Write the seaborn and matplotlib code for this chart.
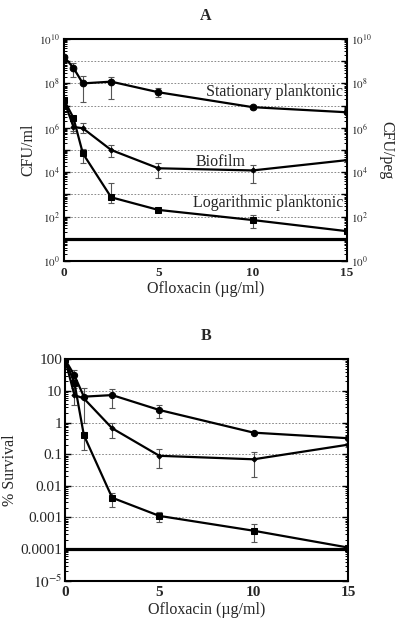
import numpy as np
import pandas as pd
import matplotlib
matplotlib.use("Agg")
import matplotlib.pyplot as plt
from matplotlib.ticker import FixedLocator, FixedFormatter, LogLocator, NullFormatter
import seaborn as sns

sns.set_theme(style="white")
plt.rcParams['font.family'] = ['Liberation Serif', 'DejaVu Serif']
plt.rcParams['mathtext.fontset'] = 'stix'

# ---------------- data ----------------
conc = [0, 0.5, 1, 2.5, 5, 10, 15]

# Panel A (CFU)
a_stat = [1.6e9, 5.0e8, 1.0e8, 1.2e8, 4.0e7, 8.5e6, 5.0e6]
a_stat_lo = [1.6e9, 1.9e8, 1.5e7, 2.0e7, 2.4e7, 7.0e6, 5.0e6]
a_stat_hi = [1.6e9, 8.3e8, 2.2e8, 1.9e8, 6.2e7, 1.0e7, 5.0e6]

a_bio = [1.7e7, 1.1e6, 9.5e5, 1.0e5, 1.5e4, 1.2e4, 3.5e4]
a_bio_lo = [1.7e7, 5.6e5, 5.9e5, 4.8e4, 5.5e3, 3.2e3, 3.0e4]
a_bio_hi = [1.7e7, 2.2e6, 1.7e6, 1.7e5, 2.6e4, 2.1e4, 4.0e4]

a_log = [1.8e7, 2.8e6, 7.0e4, 7.4e2, 2.0e2, 70, 22]
a_log_lo = [1.8e7, 7.0e5, 2.6e4, 4.1e2, 1.6e2, 31, 22]
a_log_hi = [1.8e7, 3.5e6, 1.1e5, 3.2e3, 2.5e2, 120, 22]

a_limit = 10

# Panel B (% survival)
b_stat = [100, 31, 6.6, 7.4, 2.5, 0.48, 0.32]
b_stat_lo = [100, 22, 0.95, 2.95, 1.38, 0.44, 0.32]
b_stat_hi = [100, 45, 12.3, 11.5, 3.5, 0.52, 0.32]

b_bio = [100, 7.4, 5.8, 0.66, 0.089, 0.069, 0.2]
b_bio_lo = [100, 3.6, 5.8, 0.32, 0.037, 0.019, 0.17]
b_bio_hi = [100, 15.5, 5.8, 0.95, 0.145, 0.12, 0.23]

b_log = [100, 18, 0.4, 0.0042, 0.00112, 0.00038, 0.000112]
b_log_lo = [100, 12.6, 0.135, 0.0022, 0.00072, 0.00017, 0.000112]
b_log_hi = [100, 32, 0.51, 0.006, 0.0015, 0.00062, 0.000112]

b_limit = 1e-4

a_labels = ["Stationary planktonic", "Biofilm", "Logarithmic planktonic"]
a_ytick_labels = [r"$10^{0}$", "", r"$10^{2}$", "", r"$10^{4}$", "", r"$10^{6}$", "",
                  r"$10^{8}$", "", r"$10^{10}$"]
b_ytick_labels = [r"$10^{-5}$", "0.0001", "0.001", "0.01", "0.1", "1", "10", "100"]
xticks = [0, 5, 10, 15]
xlabel = "Ofloxacin (\u00b5g/ml)"

# ---------------- figure ----------------
fig = plt.figure(figsize=(4.0, 6.22), dpi=100)
axA = fig.add_axes([0.16, 0.5804, 0.7075, 0.3569])
axB = fig.add_axes([0.1625, 0.0664, 0.7075, 0.3559])

def draw_series(ax, y, lo, hi, marker, ms):
    df = pd.DataFrame({"x": conc, "y": y})
    sns.lineplot(data=df, x="x", y="y", ax=ax, color="black", lw=1.6,
                 marker=marker, markersize=ms, markeredgecolor="black",
                 markerfacecolor="black", legend=False, zorder=3)
    y = np.array(y); lo = np.array(lo); hi = np.array(hi)
    ax.errorbar(conc, y, yerr=[y - lo, hi - y], fmt="none", ecolor="#555555",
                elinewidth=0.8, capsize=2, capthick=0.8, zorder=2)

def style_axis(ax, ymin, ymax, yt, ytl, xfs):
    ax.set_yscale("log")
    ax.set_xlim(0, 15)
    ax.set_ylim(ymin, ymax)
    ax.yaxis.set_major_locator(FixedLocator(yt))
    ax.yaxis.set_major_formatter(FixedFormatter(ytl))
    ax.yaxis.set_minor_locator(LogLocator(base=10, subs=np.arange(2, 10), numticks=50))
    ax.yaxis.set_minor_formatter(NullFormatter())
    ax.set_xticks(xticks)
    ax.set_xticklabels([str(t) for t in xticks], fontweight="bold", fontsize=xfs)
    ax.grid(True, axis="y", which="major", linestyle=(0, (2, 2)), color="#777777", lw=0.6)
    for s in ax.spines.values():
        s.set_linewidth(1.5)
        s.set_color("black")
    ax.set_xlabel(xlabel, fontsize=11.5, labelpad=2)

def style_ticks(ax):
    ax.tick_params(axis="y", which="both", direction="in", left=True, right=True,
                   color="black")
    ax.tick_params(axis="y", which="major", length=4, width=1)
    ax.tick_params(axis="y", which="minor", length=2.5, width=0.7)
    ax.tick_params(axis="x", direction="in", bottom=True, length=0, width=1, pad=4)

# ---- Panel A ----
draw_series(axA, a_stat, a_stat_lo, a_stat_hi, "o", 4.8)
draw_series(axA, a_bio, a_bio_lo, a_bio_hi, "D", 2.6)
draw_series(axA, a_log, a_log_lo, a_log_hi, "s", 4.8)
axA.axhline(a_limit, color="black", lw=2.3, zorder=4)
a_yt = [10.0 ** k for k in range(0, 11)]
style_axis(axA, 1, 1e10, a_yt, a_ytick_labels, 9.5)
axA.set_ylabel("CFU/ml", fontsize=11.5, labelpad=2)
axR = axA.twinx()
axR.set_yscale("log")
axR.set_ylim(1, 1e10)
axR.set_yticks([])
axR.yaxis.set_minor_locator(FixedLocator([]))
axR.set_ylabel("CFU/peg", fontsize=11.5, rotation=270, labelpad=34)
for s in axR.spines.values():
    s.set_visible(False)
style_ticks(axA)
axA.tick_params(axis="y", labelsize=8, labelleft=True, labelright=True, pad=3)
axA.set_title("A", fontsize=11.5, fontweight="bold", pad=14)
axA.text(14.8, 4.0e7, a_labels[0], ha="right", va="center", fontsize=11.5)
axA.text(8.3, 2.8e4, a_labels[1], ha="center", va="center", fontsize=11.5)
axA.text(14.8, 4.1e2, a_labels[2], ha="right", va="center", fontsize=11.5)

# ---- Panel B ----
draw_series(axB, b_stat, b_stat_lo, b_stat_hi, "o", 4.5)
draw_series(axB, b_bio, b_bio_lo, b_bio_hi, "D", 2.6)
draw_series(axB, b_log, b_log_lo, b_log_hi, "s", 4.5)
axB.axhline(b_limit, color="black", lw=2.3, zorder=4)
b_yt = [10.0 ** k for k in range(-5, 3)]
style_axis(axB, 1e-5, 100, b_yt, b_ytick_labels, 11)
style_ticks(axB)
axB.tick_params(axis="y", labelsize=11, pad=2)
axB.set_ylabel("% Survival", fontsize=11.5, labelpad=2)
axB.set_title("B", fontsize=11.5, fontweight="bold", pad=14)

fig.savefig("out.png", dpi=100)
